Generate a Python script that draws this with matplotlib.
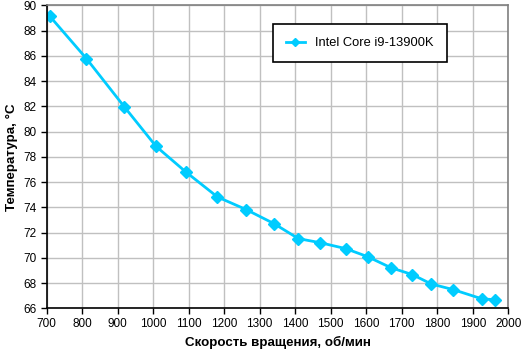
import matplotlib
matplotlib.use("Agg")
import matplotlib.pyplot as plt

rpm = [709, 812, 919, 1008, 1092, 1181, 1262, 1340, 1409, 1470, 1542, 1604, 1669, 1730, 1783, 1845, 1927, 1963]
temp = [89.13, 85.78, 81.95, 78.83, 76.8, 74.82, 73.82, 72.71, 71.52, 71.2, 70.73, 70.09, 69.22, 68.67, 67.93, 67.48, 66.74, 66.69]
series_name = "Intel Core i9-13900K"
x_ticks = list(range(700, 2001, 100))
y_ticks = list(range(66, 91, 2))
x_label = "Скорость вращения, об/мин"
y_label = "Температура, °C"

plt.rcParams['font.family'] = ['Liberation Sans', 'DejaVu Sans']

fig = plt.figure(figsize=(5.21, 3.55), dpi=100)
ax = fig.add_axes([0.0896, 0.1315, 0.886, 0.8535])
color = '#00CCFF'
ax.plot(rpm, temp, color=color, lw=2, marker='D', ms=6, mec=color, mfc=color, label=series_name)
ax.set_xlim(700, 2000)
ax.set_ylim(66, 90)
ax.set_xticks(x_ticks)
ax.set_yticks(y_ticks)
ax.tick_params(labelsize=8.5, direction='out', length=4, width=1, color='black', pad=3)
ax.grid(True, color='#c0c0c0', lw=1)
ax.set_axisbelow(True)
for s in ['left', 'bottom']:
    ax.spines[s].set_color('black')
    ax.spines[s].set_linewidth(1.2)
for s in ['top', 'right']:
    ax.spines[s].set_color('#808080')
    ax.spines[s].set_linewidth(1.2)
ax.set_xlabel(x_label, fontsize=9.6, fontweight='bold', labelpad=4)
ax.set_ylabel(y_label, fontsize=9.6, fontweight='bold', labelpad=4)
leg = ax.legend(loc='upper left', bbox_to_anchor=(0.490, 0.937), fontsize=9.3, frameon=True,
                fancybox=False, edgecolor='black', framealpha=1, borderpad=1.0,
                handlelength=1.5, handletextpad=0.8, markerscale=0.7, borderaxespad=0)
leg.get_frame().set_linewidth(1.2)
fig.savefig('out.png', dpi=100)
